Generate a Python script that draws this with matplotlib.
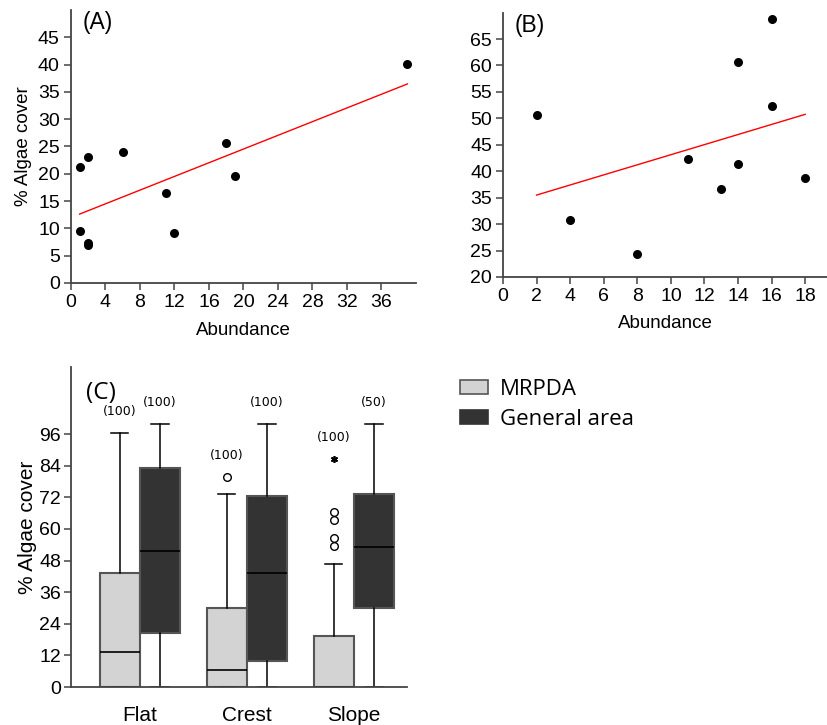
import numpy as np
import matplotlib
matplotlib.use("Agg")
import matplotlib.pyplot as plt
from matplotlib.patches import Patch

plt.rcParams['font.family'] = ['Liberation Sans', 'DejaVu Sans']

# (A) abundance vs % algae cover
a_abund = [1, 2, 6, 1, 2, 2, 11, 12, 18, 19, 39]
a_cover = [21.2, 23.0, 23.9, 9.5, 7.3, 7.0, 16.4, 9.1, 25.7, 19.5, 40.1]

# (B) abundance vs % algae cover
b_abund = [2, 4, 8, 11, 13, 14, 14, 16, 16, 18]
b_cover = [50.6, 30.8, 24.3, 42.3, 36.6, 60.6, 41.3, 68.8, 52.4, 38.8]

# (C) box summaries per zone, MRPDA vs General area
zones = ['Flat', 'Crest', 'Slope']
groups = ['MRPDA', 'General area']
q1 = [[0, 0, 0], [20.6, 9.9, 30.1]]
med = [[13.3, 6.6, 0], [51.5, 43.2, 53.3]]
q3 = [[43.2, 30.1, 19.2], [83.3, 72.5, 73.3]]
wlo = [[0, 0, 0], [0, 0, 0]]
whi = [[96.6, 73.3, 46.6], [100, 100, 100]]
outliers = [[[], [79.9], [66.6, 63.4, 56.7, 53.4]], [[], [], []]]
extremes = [[[], [], [86.6]], [[], [], []]]
n_labels = [['(100)', '(100)', '(100)'], ['(100)', '(100)', '(50)']]

fills = ['#d3d3d3', '#333333']
spine_col = '#444444'

fig = plt.figure(figsize=(8.28, 7.25), dpi=100)


def style_axes(ax):
    for s in ['top', 'right']:
        ax.spines[s].set_visible(False)
    for s in ['left', 'bottom']:
        ax.spines[s].set_color(spine_col)
        ax.spines[s].set_linewidth(1.3)
    ax.tick_params(colors=spine_col, labelcolor='black', length=5, width=1.1)


def scatter_panel(ax, x, y, xmax, ymin, ymax, xticks, yticks, tag, lpad):
    ax.scatter(x, y, s=30, color='black', zorder=3, clip_on=False)
    k, b = np.polyfit(x, y, 1)
    xs = np.array([min(x), max(x)])
    ax.plot(xs, k * xs + b, color='red', lw=1.0)
    ax.set_xlim(0, xmax)
    ax.set_ylim(ymin, ymax)
    ax.set_xticks(xticks)
    ax.set_yticks(yticks)
    ax.tick_params(labelsize=14, pad=3)
    ax.set_xlabel('Abundance', fontsize=13.5, labelpad=lpad)
    ax.text(0.035, 0.995, tag, transform=ax.transAxes, fontsize=16.5, va='top')
    style_axes(ax)


ax_a = fig.add_axes([0.0857, 0.6097, 0.4167, 0.3766])
scatter_panel(ax_a, a_abund, a_cover, 40, 0, 50,
              np.arange(0, 37, 4), np.arange(0, 46, 5), '(A)', 8)
ax_a.set_ylabel('% Algae cover', fontsize=13.5, labelpad=4)

ax_b = fig.add_axes([0.6075, 0.618, 0.3913, 0.3646])
scatter_panel(ax_b, b_abund, b_cover, 19.3, 20, 70,
              np.arange(0, 19, 2), np.arange(20, 66, 5), '(B)', 7)

# (C) box plot
ax_c = fig.add_axes([0.0857, 0.0524, 0.4058, 0.4418])
centers = np.arange(1, len(zones) + 1)
width = 0.375
for g in range(len(groups)):
    stats = []
    for z in range(len(zones)):
        stats.append(dict(q1=q1[g][z], med=med[g][z], q3=q3[g][z],
                          whislo=wlo[g][z], whishi=whi[g][z],
                          fliers=outliers[g][z]))
    pos = centers + (g - 0.5) * width
    ax_c.bxp(stats, positions=pos, widths=width, patch_artist=True,
             capwidths=0.16, manage_ticks=False,
             boxprops=dict(facecolor=fills[g], edgecolor='#555555', lw=1.5),
             medianprops=dict(color='black', lw=1.2),
             whiskerprops=dict(color='black', lw=1.1),
             capprops=dict(color='black', lw=1.1),
             flierprops=dict(marker='o', markerfacecolor='white',
                             markeredgecolor='black', markersize=5.5, mew=1.0))
    for z in range(len(zones)):
        if extremes[g][z]:
            ax_c.plot([pos[z]] * len(extremes[g][z]), extremes[g][z],
                      marker=(6, 2, 0), color='black', ms=5, mew=1.2, ls='none')
        top = max([whi[g][z]] + outliers[g][z] + extremes[g][z])
        ax_c.text(pos[z], top + 8, n_labels[g][z], ha='center', va='center',
                  fontsize=9, family='DejaVu Sans')

ax_c.set_xlim(0.355, 3.495)
ax_c.set_ylim(0, 121.6)
ax_c.set_yticks(np.arange(0, 97, 12))
ax_c.set_xticks(centers)
ax_c.set_xticklabels(zones, fontsize=15)
ax_c.tick_params(axis='y', labelsize=14, pad=2)
ax_c.tick_params(axis='x', length=0, pad=14)
ax_c.set_ylabel('% Algae cover', fontsize=15, labelpad=2)
ax_c.text(0.045, 0.955, '(C)', transform=ax_c.transAxes, fontsize=17.5,
          va='top', family='Open Sans')
style_axes(ax_c)
ax_c.tick_params(axis='x', length=0)

handles = [Patch(facecolor=fills[i], edgecolor='#555555' if i == 0 else fills[i],
                 lw=1.2) for i in range(len(groups))]
fig.legend(handles, groups, loc='upper left', bbox_to_anchor=(0.545, 0.49),
           frameon=False, prop=dict(family='Open Sans', size=16),
           handlelength=1.25, handleheight=0.6, handletextpad=0.55,
           labelspacing=0.4, borderaxespad=0)

fig.savefig('out.png', dpi=100)
